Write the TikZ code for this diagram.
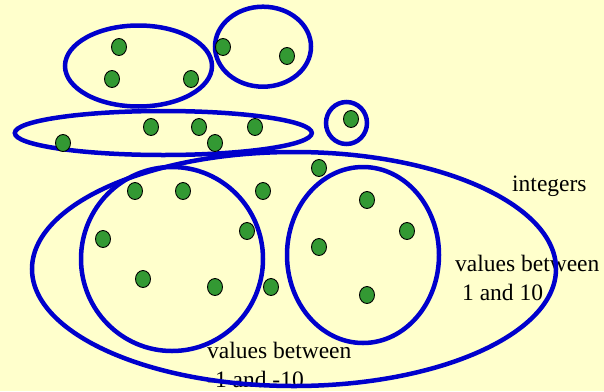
\documentclass[tikz,border=0pt]{standalone}
\usepackage{fontspec}
\setmainfont{Liberation Serif}
\usetikzlibrary{shapes.geometric}
\definecolor{SetBlue}{HTML}{0000CC}
\definecolor{ElemGreen}{HTML}{339933}
\definecolor{PaleYellow}{HTML}{FFFFCC}
\tikzset{
  setring/.style={ellipse, draw=SetBlue, line width=4.5pt, inner sep=0pt},
  elem/.style={ellipse, draw=black, line width=0.9pt, fill=ElemGreen, minimum width=15pt, minimum height=17pt, inner sep=0pt},
  setlab/.style={font=\fontsize{23.5}{29}\selectfont, text=black, anchor=base west, align=left, inner sep=0pt},
}

\begin{document}
\begin{tikzpicture}[x=1pt, y=-1pt]
    \useasboundingbox (0,0) rectangle (604,391);
    \fill[PaleYellow] (0,0) rectangle (604,391);
    % labels (base = last line)
    \node[setlab] (intlab) at (512,191) {integers};
    \node[setlab] (poslab) at (455,300) {values between\\\hspace*{7pt}1 and 10};
    \node[setlab] (neglab) at (207,387) {values between\\-1 and -10};
    % sets
    \node[setring, minimum width=147pt, minimum height=81pt] (pairA) at (138.5,66) {};
    \node[setring, minimum width=96pt, minimum height=80pt] (pairB) at (263,46.7) {};
    \node[setring, minimum width=297pt, minimum height=44pt] (row) at (163.3,133) {};
    \node[setring, minimum width=41pt, minimum height=42pt] (single) at (346.5,123) {};
    \node[setring, minimum width=524pt, minimum height=234pt] (integers) at (294,269) {};
    \node[setring, minimum width=182pt, minimum height=184pt] (negset) at (172,259) {};
    \node[setring, minimum width=152pt, minimum height=176pt] (posset) at (363,255) {};
    % elements
    \node[elem] (e1) at (119,47) {};
    \node[elem] (e2) at (112,79) {};
    \node[elem] (e3) at (191,79) {};
    \node[elem] (e4) at (223,47) {};
    \node[elem] (e5) at (287,56) {};
    \node[elem] (e6) at (351,119) {};
    \node[elem] (e7) at (151,127) {};
    \node[elem] (e8) at (199,127) {};
    \node[elem] (e9) at (255,127) {};
    \node[elem] (e10) at (63,143) {};
    \node[elem] (e11) at (215,143) {};
    \node[elem] (e12) at (319,168) {};
    \node[elem] (e13) at (135,191) {};
    \node[elem] (e14) at (183,191) {};
    \node[elem] (e15) at (263,191) {};
    \node[elem] (e16) at (367,200) {};
    \node[elem] (e17) at (247,231) {};
    \node[elem] (e18) at (407,231) {};
    \node[elem] (e19) at (103,239) {};
    \node[elem] (e20) at (319,247) {};
    \node[elem] (e21) at (143,279) {};
    \node[elem] (e22) at (215,287) {};
    \node[elem] (e23) at (271,287) {};
    \node[elem] (e24) at (367,295) {};
\end{tikzpicture}
\end{document}
